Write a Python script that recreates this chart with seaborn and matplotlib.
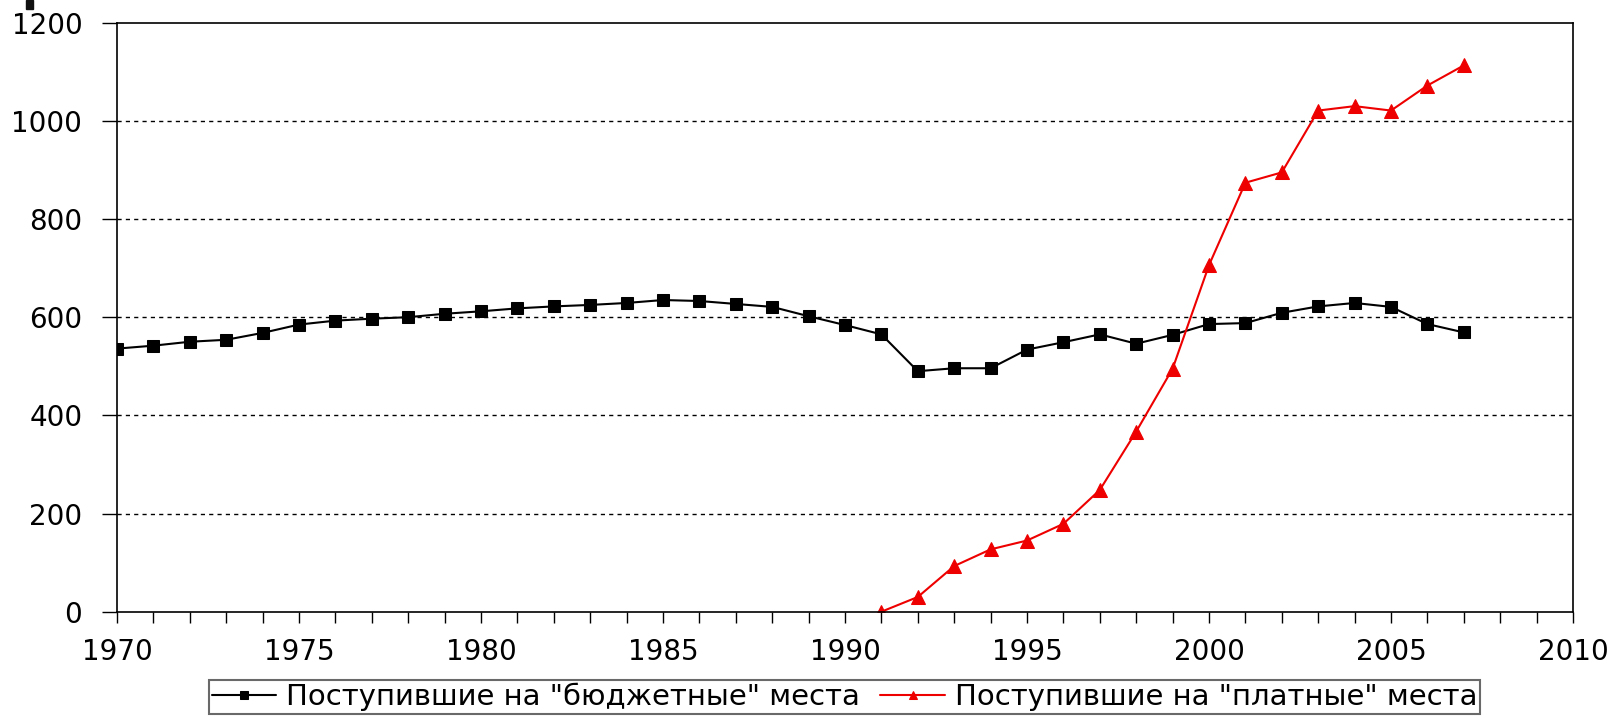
import matplotlib
matplotlib.use("Agg")
import matplotlib.pyplot as plt
import matplotlib.patches as mpatches
from matplotlib.ticker import MultipleLocator
import seaborn as sns
import pandas as pd

years_budget = list(range(1970, 2008))
budget = [536, 542, 550, 554, 568, 585, 593, 597, 600, 607,
          612, 618, 622, 625, 629, 635, 633, 627, 621, 602,
          584, 565, 490, 496, 496, 534, 549, 565, 546, 564,
          586, 588, 609, 622, 629, 621, 586, 569]

years_paid = list(range(1991, 2008))
paid = [0, 30, 93, 127, 145, 179, 248, 367, 495, 706,
        874, 895, 1021, 1030, 1021, 1072, 1113]

label_budget = 'Поступившие на "бюджетные" места'
label_paid = 'Поступившие на "платные" места'

sns.set_style("white")
plt.rcParams['font.family'] = ['DejaVu Sans']
plt.rcParams['text.color'] = 'black'
plt.rcParams['xtick.color'] = 'black'
plt.rcParams['ytick.color'] = 'black'
plt.rcParams['axes.labelcolor'] = 'black'

df_b = pd.DataFrame({"year": years_budget, "value": budget})
df_p = pd.DataFrame({"year": years_paid, "value": paid})

fig = plt.figure(figsize=(16.16, 7.16), dpi=100)
ax = fig.add_axes([117/1616, 1-611.7/716, (1573-117)/1616, (611.7-22.7)/716])

sns.lineplot(data=df_b, x="year", y="value", ax=ax, color="black", lw=1.5,
             marker="s", markersize=9, markeredgecolor="black", label=label_budget)
sns.lineplot(data=df_p, x="year", y="value", ax=ax, color="#ee0000", lw=1.5,
             marker="^", markersize=10, markeredgecolor="#ee0000", label=label_paid)

ax.set_xlim(1970, 2010)
ax.set_ylim(0, 1200)
ax.xaxis.set_major_locator(MultipleLocator(5))
ax.xaxis.set_minor_locator(MultipleLocator(1))
ax.yaxis.set_major_locator(MultipleLocator(200))
ax.set_xlabel("")
ax.set_ylabel("")

for v in range(200, 1001, 200):
    ax.axhline(v, color="black", lw=1, linestyle=(0, (3, 3)), zorder=0)

for s in ax.spines.values():
    s.set_color("black")
    s.set_linewidth(1.2)

ax.tick_params(axis="x", which="both", direction="out", length=8, width=1, color="black",
               labelcolor="black", labelsize=20, pad=11, bottom=True)
ax.tick_params(axis="x", which="minor", length=8)
ax.tick_params(axis="y", which="major", direction="out", length=11, width=1, color="black",
               labelcolor="black", labelsize=20, pad=14, left=True)

leg = ax.legend(loc="upper center", bbox_to_anchor=(0.5226, 1 - 680/716),
                bbox_transform=fig.transFigure, ncol=2, frameon=True, fancybox=False,
                fontsize=21, borderaxespad=0, handlelength=2.2, handletextpad=0.35,
                columnspacing=0.7, borderpad=0.1)
leg.get_frame().set_edgecolor("#444444")
leg.get_frame().set_linewidth(1.5)
for t in leg.get_texts():
    t.set_color("black")
for h in leg.legend_handles:
    h.set_markersize(6)

fig.patches.append(mpatches.Rectangle((26/1616, 1-9/716), 7/1616, 9/716,
                                      transform=fig.transFigure, color="#111111"))

fig.savefig("out.png", dpi=100)
